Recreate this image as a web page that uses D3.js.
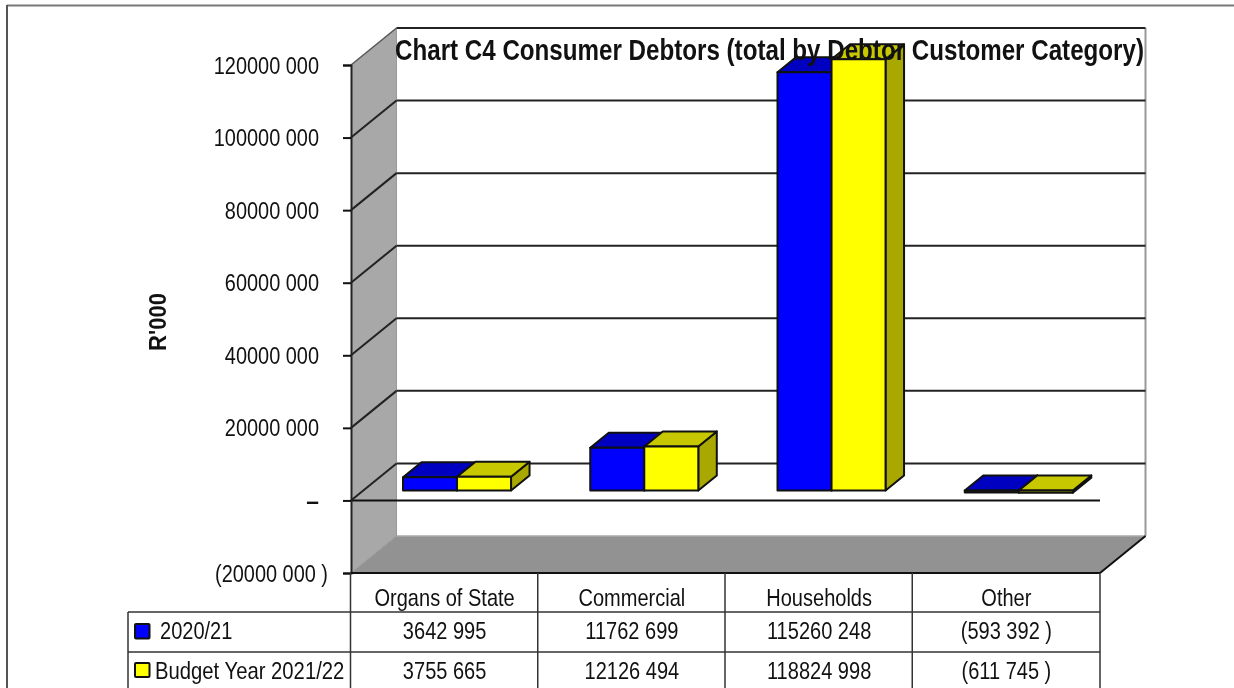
<!DOCTYPE html>
<html><head><meta charset="utf-8">
<script src="https://cdn.jsdelivr.net/npm/d3@7/dist/d3.min.js"></script>
<style>html,body{margin:0;padding:0;background:#fff;overflow:hidden}svg{display:block;filter:blur(.35px)}text{font-family:"Liberation Sans",Arial,sans-serif;fill:#111}</style>
</head><body><svg id="c" width="1234" height="688"></svg>
<script>
const categories = ["Organs of State","Commercial","Households","Other"];
const seriesNames = ["2020/21","Budget Year 2021/22"];
const series2020 = [3642995,11762699,115260248,-593392];
const series2021 = [3755665,12126494,118824998,-611745];
const labels2020 = ["3642 995","11762 699","115260 248","(593 392 )"];
const labels2021 = ["3755 665","12126 494","118824 998","(611 745 )"];
const tickValues = [120000000,100000000,80000000,60000000,40000000,20000000,0,-20000000];
const tickLabels = ["120000 000","100000 000","80000 000","60000 000","40000 000","20000 000","–","(20000 000 )"];
const title = "Chart C4 Consumer Debtors (total by Debtor Customer Category)";

const svg = d3.select("#c");
const y = d3.scaleLinear().domain([-20000000,120000000]).range([573,65]);
const x = d3.scaleBand().domain(categories).range([351,1100]).paddingInner(0.423).paddingOuter(0.2115);
const sx = d3.scaleBand().domain([0,1]).range([0,x.bandwidth()]);
const W={dx:45.5,dy:-37}, B={dx:12.4,dy:-10}, D={dx:18.5,dy:-15};
const L=x.range()[0], R=x.range()[1], Y0=y(0), YB=y(-20000000), YT=y(120000000);
const poly=(p,fill,stroke,sw)=>svg.append("polygon").attr("points",p.map(d=>d.join(",")).join(" ")).attr("fill",fill).attr("stroke",stroke||"none").attr("stroke-width",sw||0).attr("stroke-linejoin","round");
const line=(a,b,c,d,col,w)=>svg.append("line").attr("x1",a).attr("y1",b).attr("x2",c).attr("y2",d).attr("stroke",col).attr("stroke-width",w);
const txt=(s,px,py,size,anchor,weight,sc)=>svg.append("text").text(s).attr("transform",`translate(${px},${py}) scale(${sc||0.835},1)`).attr("font-size",size).attr("text-anchor",anchor||"middle").attr("font-weight",weight||"normal");

// frame
line(7,5.5,1234,5.5,"#777",2); line(7,5,7,688,"#555",2);
// walls
poly([[L,YT],[L+W.dx,YT+W.dy],[L+W.dx,YB+W.dy],[L,YB]],"#a8a8a8");
poly([[L,YB],[L+W.dx,YB+W.dy],[R+W.dx,YB+W.dy],[R,YB]],"#929292");
line(L+W.dx,YB+W.dy,R+W.dx,YB+W.dy,"#aaa",1.5);
line(R+W.dx,YT+W.dy,R+W.dx,YB+W.dy,"#999",2);
line(L+W.dx,YT+W.dy,L+W.dx,YB+W.dy,"#999",1);
// grid
tickValues.filter(v=>v>-20000000).forEach(v=>{
  const yy=y(v);
  line(L+W.dx,yy+W.dy,R+W.dx,yy+W.dy,"#222",2);
  line(L,yy,L+W.dx,yy+W.dy,v===120000000?"#555":"#222",v===120000000?1.5:2);
});
line(L,YB,L+W.dx,YB+W.dy,"#999",1);
line(R,YB,R+W.dx,YB+W.dy,"#111",2);
// zero line
line(L,Y0,R,Y0,"#111",2);
// axis
const axis=d3.axisLeft(y).tickValues(tickValues).tickSize(8).tickPadding(0).tickFormat("");
const ag=svg.append("g").attr("transform",`translate(${L},0)`).call(axis);
ag.select(".domain").attr("stroke","#222").attr("stroke-width",2);
ag.selectAll(".tick line").attr("stroke","#111").attr("stroke-width",2);
tickValues.forEach((v,i)=>{
  const neg=v<0;
  txt(tickLabels[i],neg?328:319,y(v)+8.5,24,"end",v===0?"bold":null,v===0?0.95:0.83);
});
// bars
const colors=[{front:"#0000ff",top:"#0000c0",side:"#0000a0"},{front:"#ffff00",top:"#c8c800",side:"#a8a800"}];
categories.forEach((c,i)=>{
  [series2020,series2021].forEach((s,k)=>{
    const col=colors[k], x0=x(c)+sx(k)+B.dx, x1=x0+sx.bandwidth();
    const base=Y0+B.dy, v=y(s[i])+B.dy, top=Math.min(base,v), bot=Math.max(base,v);
    poly([[x1,top],[x1+D.dx,top+D.dy],[x1+D.dx,bot+D.dy],[x1,bot]],col.side,"#111",2);
    poly([[x0,top],[x0+D.dx,top+D.dy],[x1+D.dx,top+D.dy],[x1,top]],col.top,"#111",2);
    poly([[x0,top],[x1,top],[x1,bot],[x0,bot]],col.front,"#111",2);
  });
});
// table
const rows=[573,612,652];
line(L,573,R,573,"#111",2);
line(128,rows[1],R,rows[1],"#333",1.5);
line(128,rows[2],R,rows[2],"#333",1.5);
line(128,rows[1],128,688,"#333",1.5);
categories.forEach((c,i)=>{
  const cl=x(c)-x.step()*0.2115-0.5;
  line(cl,573,cl,688,"#333",1.5);
});
line(R,573,R,688,"#333",1.5);
categories.forEach((c,i)=>{
  const cx=x(c)+x.bandwidth()/2;
  txt(c,cx,606,24,"middle");
  txt(labels2020[i],cx,639,24,"middle");
  txt(labels2021[i],cx,679,24,"middle");
});
svg.append("rect").attr("x",135).attr("y",624).attr("width",14.5).attr("height",14.5).attr("rx",1).attr("fill",colors[0].front).attr("stroke","#111").attr("stroke-width",2);
svg.append("rect").attr("x",135).attr("y",663).attr("width",14.5).attr("height",14).attr("rx",1).attr("fill",colors[1].front).attr("stroke","#111").attr("stroke-width",2);
txt(seriesNames[0],160,639,24,"start");
txt(seriesNames[1],155,679,24,"start",null,0.845);
// axis title
svg.append("text").text("R'000").attr("transform","translate(166,322) rotate(-90) scale(0.92,1)").attr("font-size",24).attr("font-weight","bold").attr("text-anchor","middle");
// title
svg.append("text").text(title).attr("x",395).attr("y",59.5).attr("textLength",749).attr("lengthAdjust","spacingAndGlyphs").attr("font-size",29).attr("font-weight","bold");
</script></body></html>
